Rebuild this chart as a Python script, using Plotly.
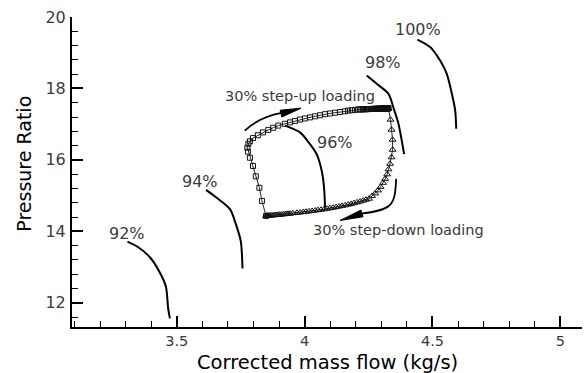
import plotly.graph_objects as go

# ---------------- data ----------------
# constant corrected-speed lines
SPEED_92_X = [3.307, 3.348, 3.394, 3.427, 3.457, 3.466, 3.473]
SPEED_92_Y = [13.71, 13.56, 13.28, 12.93, 12.46, 11.85, 11.56]
SPEED_94_X = [3.614, 3.656, 3.708, 3.731, 3.750, 3.757]
SPEED_94_Y = [15.16, 14.94, 14.62, 14.20, 13.73, 12.96]
SPEED_96_X = [3.923, 3.982, 4.021, 4.047, 4.067, 4.076, 4.080]
SPEED_96_Y = [16.96, 16.77, 16.44, 16.16, 15.69, 15.22, 14.62]
SPEED_98_X = [4.243, 4.282, 4.328, 4.347, 4.367, 4.380, 4.389]
SPEED_98_Y = [18.36, 18.13, 17.85, 17.47, 17.01, 16.54, 16.16]
SPEED_100_X = [4.441, 4.491, 4.530, 4.556, 4.576, 4.589, 4.593]
SPEED_100_Y = [19.37, 19.16, 18.78, 18.41, 17.85, 17.38, 16.87]

SPEED_LABELS = ["92%", "94%", "96%", "98%", "100%"]
SPEED_LABEL_X = [3.306, 3.592, 4.119, 4.307, 4.442]
SPEED_LABEL_Y = [13.94, 15.39, 16.48, 18.73, 19.65]

# 30% step-up loading transient (squares)
STEP_UP_X = [3.849, 3.833, 3.823, 3.809, 3.798, 3.786, 3.778, 3.776, 3.780, 3.786,
             3.798, 3.817, 3.837, 3.858, 3.877, 3.897, 3.923, 3.943, 3.962, 3.982,
             4.001, 4.021, 4.041, 4.060, 4.080, 4.099, 4.119, 4.138, 4.158, 4.170,
             4.185, 4.197, 4.209,
             4.216, 4.222, 4.228, 4.233, 4.239, 4.244, 4.249, 4.254, 4.259, 4.263,
             4.268, 4.272, 4.276, 4.280, 4.284, 4.288, 4.292, 4.295, 4.299, 4.302,
             4.305, 4.308, 4.311, 4.314, 4.316, 4.318, 4.320, 4.322, 4.324, 4.326,
             4.327, 4.328]
STEP_UP_Y = [14.43, 14.85, 15.22, 15.54, 15.83, 16.06, 16.23, 16.34, 16.45, 16.52,
             16.61, 16.69, 16.77, 16.84, 16.90, 16.96, 17.01, 17.05, 17.09, 17.13,
             17.16, 17.19, 17.22, 17.25, 17.28, 17.30, 17.32, 17.34, 17.36, 17.38,
             17.39, 17.40, 17.41,
             17.412, 17.414, 17.416, 17.418, 17.419, 17.421, 17.422, 17.424, 17.425, 17.426,
             17.428, 17.429, 17.430, 17.431, 17.432, 17.433, 17.434, 17.435, 17.436, 17.437,
             17.438, 17.438, 17.439, 17.440, 17.440, 17.441, 17.441, 17.442, 17.442, 17.443,
             17.443, 17.444]

# 30% step-down loading transient (triangles)
STEP_DOWN_X = [4.328, 4.336, 4.340, 4.344, 4.344, 4.340, 4.334, 4.328, 4.323, 4.315,
               4.307, 4.297, 4.287, 4.276, 4.264,
               4.252, 4.240, 4.229, 4.217, 4.205, 4.193, 4.182, 4.170, 4.158, 4.146,
               4.135, 4.123, 4.111, 4.099, 4.088, 4.076, 4.064, 4.052, 4.041, 4.029,
               4.017, 4.005, 3.994, 3.982,
               3.970, 3.954, 3.943,
               3.935, 3.927, 3.919, 3.911, 3.903, 3.896, 3.888, 3.882, 3.876, 3.870,
               3.864, 3.860, 3.856, 3.853, 3.851, 3.849]
STEP_DOWN_Y = [17.435, 17.126, 16.845, 16.564, 16.283, 16.073, 15.890, 15.736, 15.595, 15.469,
               15.357, 15.244, 15.146, 15.062, 14.991,
               14.913, 14.885, 14.860, 14.834, 14.812, 14.789, 14.767, 14.747, 14.728, 14.711,
               14.694, 14.677, 14.660, 14.646, 14.632, 14.618, 14.604, 14.593, 14.581, 14.570,
               14.559, 14.548, 14.537, 14.528,
               14.517, 14.506, 14.494,
               14.489, 14.483, 14.477, 14.472, 14.466, 14.461, 14.455, 14.452, 14.447, 14.444,
               14.441, 14.438, 14.435, 14.433, 14.432, 14.430]

NOTE_TEXTS = ["30% step-up loading", "30% step-down loading"]
NOTE_X = [3.982, 4.367]
NOTE_Y = [17.80, 14.04]

X_RANGE = [3.09, 5.085]
Y_RANGE = [11.32, 20.001]

# ---------------- figure ----------------
TXT = "#3a3a3a"
FONT = "DejaVu Sans"

fig = go.Figure()

speed_lines = [(SPEED_92_X, SPEED_92_Y), (SPEED_94_X, SPEED_94_Y), (SPEED_96_X, SPEED_96_Y),
               (SPEED_98_X, SPEED_98_Y), (SPEED_100_X, SPEED_100_Y)]
for sx, sy in speed_lines:
    fig.add_trace(go.Scatter(x=sx, y=sy, mode="lines",
                             line=dict(color="black", width=2, shape="spline", smoothing=0.8),
                             showlegend=False, hoverinfo="skip"))

fig.add_trace(go.Scatter(x=STEP_UP_X, y=STEP_UP_Y, mode="lines+markers",
                         line=dict(color="#222", width=1),
                         marker=dict(symbol="square-open", size=5, color="#111",
                                     line=dict(width=1, color="#111")),
                         showlegend=False))
fig.add_trace(go.Scatter(x=STEP_DOWN_X, y=STEP_DOWN_Y, mode="lines+markers",
                         line=dict(color="#222", width=1),
                         marker=dict(symbol="triangle-up-open", size=6, color="#111",
                                     line=dict(width=1, color="#111")),
                         showlegend=False))

annotations = []
for t, ax_, ay_ in zip(SPEED_LABELS, SPEED_LABEL_X, SPEED_LABEL_Y):
    annotations.append(dict(x=ax_, y=ay_, xref="x", yref="y", text=t, showarrow=False,
                            xanchor="center", yanchor="middle",
                            font=dict(family=FONT, size=16, color=TXT)))
for t, ax_, ay_ in zip(NOTE_TEXTS, NOTE_X, NOTE_Y):
    annotations.append(dict(x=ax_, y=ay_, xref="x", yref="y", text=t, showarrow=False,
                            xanchor="center", yanchor="middle",
                            font=dict(family=FONT, size=14.5, color=TXT)))
annotations.append(dict(x=0.5, y=-0.115, xref="paper", yref="paper",
                        text="Corrected mass flow (kg/s)", showarrow=False,
                        xanchor="center", yanchor="middle",
                        font=dict(family=FONT, size=19.5, color="black")))
annotations.append(dict(x=-0.094, y=0.527, xref="paper", yref="paper",
                        text="Pressure Ratio", showarrow=False, textangle=-90,
                        xanchor="center", yanchor="middle",
                        font=dict(family=FONT, size=19, color="black")))

shapes = [
    dict(type="path", xref="x", yref="y",
         path="M 3.766,16.817 Q 3.819,17.188 3.910,17.315",
         line=dict(color="black", width=1.8)),
    dict(type="path", xref="x", yref="y",
         path="M 3.986,17.449 L 3.911,17.199 L 3.904,17.390 Z",
         fillcolor="black", line=dict(color="black", width=1)),
    dict(type="path", xref="x", yref="y",
         path="M 4.358,15.469 C 4.354,14.711 4.342,14.598 4.225,14.500",
         line=dict(color="black", width=1.8)),
    dict(type="path", xref="x", yref="y",
         path="M 4.1385,14.303 L 4.2289,14.407 L 4.2203,14.593 Z",
         fillcolor="black", line=dict(color="black", width=1)),
]

fig.update_layout(
    width=586, height=373,
    margin=dict(l=72, r=4, t=17, b=46),
    plot_bgcolor="white", paper_bgcolor="white",
    annotations=annotations, shapes=shapes,
    showlegend=False,
)
fig.update_xaxes(range=X_RANGE, dtick=0.5, tick0=0, showgrid=False, zeroline=False,
                 showline=True, linecolor="black", linewidth=2,
                 ticks="inside", ticklen=11, tickwidth=2, tickcolor="black",
                 minor=dict(dtick=0.1, tick0=0, ticks="inside", ticklen=6, tickwidth=1,
                            tickcolor="black", showgrid=False),
                 tickfont=dict(family=FONT, size=14.5, color=TXT), ticklabelstandoff=0)
fig.update_yaxes(range=Y_RANGE, dtick=2, tick0=0, showgrid=False, zeroline=False,
                 showline=True, linecolor="black", linewidth=2,
                 ticks="inside", ticklen=11, tickwidth=2, tickcolor="black",
                 minor=dict(dtick=0.4, tick0=0, ticks="inside", ticklen=6, tickwidth=1,
                            tickcolor="black", showgrid=False),
                 tickfont=dict(family=FONT, size=16, color=TXT), ticklabelstandoff=1)

fig.write_html("out.html")
